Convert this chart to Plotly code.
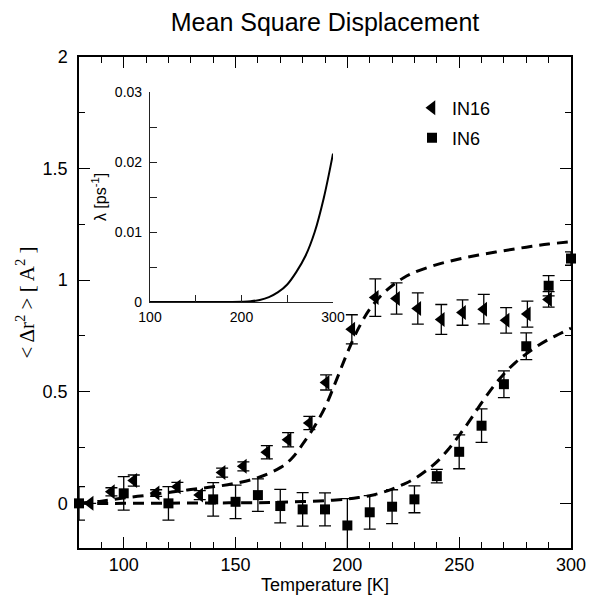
import plotly.graph_objects as go

# IN16 data (left triangles)
T_in16 = [85, 94.5, 104.5, 114.5, 124, 134, 144, 153.5, 164, 173.5, 183, 190.5,
          202, 212.5, 222, 231.5, 242, 251.5, 261, 271, 280.5, 290]
msd_in16 = [0.0, 0.052, 0.102, 0.046, 0.074, 0.037, 0.138, 0.166, 0.229, 0.285, 0.36, 0.542,
            0.78, 0.922, 0.918, 0.873, 0.824, 0.855, 0.87, 0.82, 0.848, 0.914]
err_in16 = [0.0, 0.018, 0.025, 0.015, 0.02, 0.02, 0.02, 0.02, 0.03, 0.032, 0.03, 0.034,
            0.065, 0.084, 0.07, 0.07, 0.067, 0.057, 0.066, 0.057, 0.058, 0.035]

# IN6 data (squares)
T_in6 = [80, 100, 120, 140, 150, 160, 170, 180, 190, 200, 210, 220, 230, 240, 250,
         260, 270, 280, 290, 300]
msd_in6 = [0.0, 0.045, 0.0, 0.018, 0.007, 0.037, -0.012, -0.027, -0.027, -0.099, -0.04,
           -0.015, 0.018, 0.122, 0.231, 0.348, 0.534, 0.704, 0.975, 1.097]
err_in6 = [0.075, 0.075, 0.075, 0.075, 0.075, 0.073, 0.075, 0.075, 0.074, 0.12, 0.075,
           0.076, 0.06, 0.03, 0.076, 0.075, 0.06, 0.06, 0.045, 0.03]

# fit curves (dashed)
T_fit1 = [80, 90, 100, 110, 120, 130, 140, 150, 160, 170, 175, 180, 185, 190, 195, 200,
          205, 210, 215, 220, 225, 230, 240, 250, 260, 270, 280, 290, 300]
fit1 = [0.0, 0.01, 0.024, 0.036, 0.049, 0.062, 0.074, 0.09, 0.115, 0.16, 0.2, 0.265, 0.34,
        0.43, 0.55, 0.675, 0.785, 0.87, 0.93, 0.975, 1.01, 1.035, 1.07, 1.095, 1.115, 1.132,
        1.148, 1.162, 1.172]
T_fit2 = [80, 100, 120, 140, 160, 170, 180, 190, 200, 205, 210, 215, 220, 225, 230, 235,
          240, 245, 250, 255, 260, 265, 270, 275, 280, 285, 290, 295, 300]
fit2 = [0.0, 0.0, 0.001, 0.002, 0.003, 0.005, 0.008, 0.012, 0.02, 0.026, 0.034, 0.047,
        0.064, 0.085, 0.11, 0.145, 0.186, 0.24, 0.305, 0.375, 0.45, 0.52, 0.58, 0.63, 0.67,
        0.705, 0.735, 0.76, 0.785]

# inset: lambda(T)
T_lam = [100, 150, 190, 200, 210, 220, 230, 240, 250, 260, 270, 280, 290, 300]
lam = [0, 0, 0, 0.00003, 0.0001, 0.0003, 0.0007, 0.0014, 0.0025, 0.0043, 0.0066, 0.0100,
       0.0149, 0.0212]
inset_yticks = [0, 0.01, 0.02, 0.03]
inset_yticklabels = ["0", "0.01", "0.02", "0.03"]

SANS = "Liberation Sans, Arial, sans-serif"
SERIF = "Liberation Serif, Times New Roman, serif"

fig = go.Figure()
dash = "11px,7px"
fig.add_trace(go.Scatter(x=T_fit1, y=fit1, mode="lines", line=dict(color="black", width=3, dash=dash, shape="spline"),
                         showlegend=False, hoverinfo="skip"))
fig.add_trace(go.Scatter(x=T_fit2, y=fit2, mode="lines", line=dict(color="black", width=3, dash=dash, shape="spline"),
                         showlegend=False, hoverinfo="skip"))
fig.add_trace(go.Scatter(x=T_in16, y=msd_in16, mode="markers", name="IN16",
                         marker=dict(symbol="triangle-left", size=13, color="black"),
                         error_y=dict(type="data", array=err_in16, color="black", thickness=1.3, width=6),
                         cliponaxis=False, legend="legend"))
fig.add_trace(go.Scatter(x=T_in6, y=msd_in6, mode="markers", name="IN6",
                         marker=dict(symbol="square", size=10, color="black"),
                         error_y=dict(type="data", array=err_in6, color="black", thickness=1.3, width=6),
                         cliponaxis=False, legend="legend2"))
fig.add_trace(go.Scatter(x=T_lam, y=lam, mode="lines", line=dict(color="black", width=2, shape="spline"),
                         xaxis="x2", yaxis="y2", showlegend=False, hoverinfo="skip"))

W, H = 597, 595
L, R, T, B = 79, 26, 57, 47
pw = W - L - R
ph = H - T - B

def px_x(p):
    return (p - L) / pw

def px_y(p):
    return (H - B - p) / ph

fig.update_layout(
    width=W, height=H,
    margin=dict(l=L, r=R, t=T, b=B, autoexpand=False),
    paper_bgcolor="white", plot_bgcolor="white",
    font=dict(family=SANS, color="black", size=18),
    title=dict(text="Mean Square Displacement", x=0.5, xref="paper", xanchor="center",
               y=1 - 22 / H, yref="container", yanchor="middle",
               font=dict(family=SANS, size=25, color="black")),
    xaxis=dict(range=[80, 300], dtick=50, tick0=0, showgrid=False, zeroline=False,
               showline=True, linecolor="black", linewidth=1.5, mirror="allticks",
               ticks="inside", ticklen=11, tickwidth=1.2, tickcolor="black",
               minor=dict(dtick=10, ticks="inside", ticklen=6, tickwidth=1.2, tickcolor="black"),
               tickfont=dict(size=18), ticklabelstandoff=0,
               title=dict(text="Temperature [K]", font=dict(size=18), standoff=1),
               domain=[0, 1], automargin=False),
    yaxis=dict(range=[-0.2, 2], dtick=0.5, tick0=0, showgrid=False, zeroline=False,
               showline=True, linecolor="black", linewidth=1.5, mirror="allticks",
               ticks="inside", ticklen=11, tickwidth=1.2, tickcolor="black",
               minor=dict(dtick=0.25, ticks="inside", ticklen=6, tickwidth=1.2, tickcolor="black"),
               tickfont=dict(size=18), ticklabelstandoff=6,
               title=dict(text="< Δr<sup>2</sup> > [ A<sup>2</sup> ]", font=dict(family=SERIF, size=21), standoff=2),
               domain=[0, 1], automargin=False),
    xaxis2=dict(domain=[px_x(150), px_x(333)], anchor="y2", range=[100, 300], dtick=100,
                showgrid=False, zeroline=False, showline=True, linecolor="#222", linewidth=1.2,
                ticks="inside", ticklen=7, tickwidth=1, tickcolor="#222",
                minor=dict(dtick=50, ticks="inside", ticklen=7, tickwidth=1, tickcolor="#222"),
                tickfont=dict(size=14), ticklabelstandoff=2, automargin=False),
    yaxis2=dict(domain=[px_y(302), px_y(92)], anchor="x2", range=[0, 0.03],
                tickmode="array", tickvals=inset_yticks, ticktext=inset_yticklabels,
                showgrid=False, zeroline=False, showline=True, linecolor="#222", linewidth=1.2,
                ticks="inside", ticklen=7, tickwidth=1, tickcolor="#222",
                minor=dict(dtick=0.005, ticks="inside", ticklen=7, tickwidth=1, tickcolor="#222"),
                tickfont=dict(size=14), ticklabelstandoff=4,
                title=dict(text="λ [ps<sup>-1</sup>]", font=dict(family=SANS, size=16), standoff=4),
                automargin=False),
    legend=dict(x=px_x(412), y=px_y(108), xanchor="left", yanchor="middle",
                bgcolor="rgba(0,0,0,0)", borderwidth=0, font=dict(size=18, family=SANS)),
    legend2=dict(x=px_x(412), y=px_y(138), xanchor="left", yanchor="middle",
                 bgcolor="rgba(0,0,0,0)", borderwidth=0, font=dict(size=18, family=SANS)),
    showlegend=True,
)

fig.write_html("out.html")
